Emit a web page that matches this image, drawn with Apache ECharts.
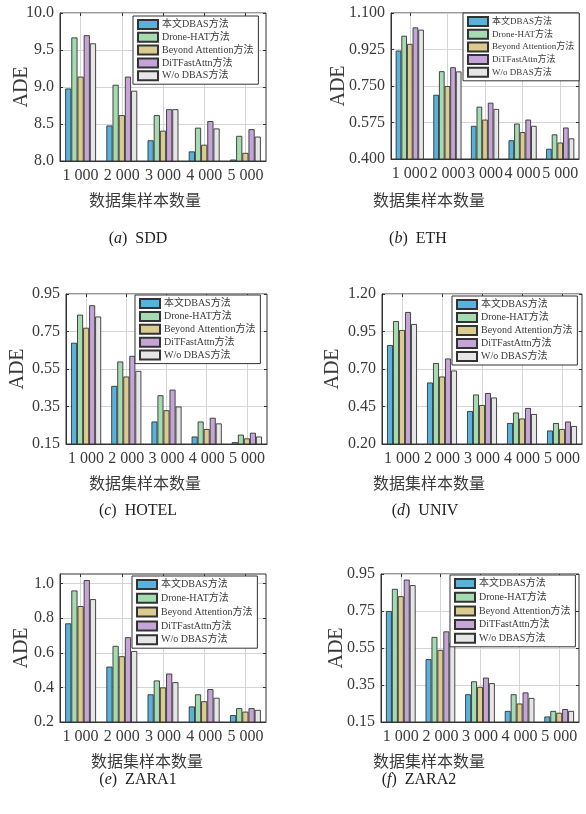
<!DOCTYPE html>
<html>
<head>
<meta charset="utf-8">
<script src="https://cdn.jsdelivr.net/npm/echarts@6/dist/echarts.min.js"></script>
<style>
  html, body { margin: 0; padding: 0; background: #ffffff; }
  #chart { width: 586px; height: 814px; }
</style>
</head>
<body>
<div id="chart"></div>
<script>
// Sample-count categories and compared methods
const categories = ['1 000', '2 000', '3 000', '4 000', '5 000'];
const methods = ['本文DBAS方法', 'Drone-HAT方法', 'Beyond Attention方法', 'DiTFastAttn方法', 'W/o DBAS方法'];

// SDD
const sddOurs     = [8.98, 8.48, 8.28, 8.13, 8.02];
const sddDroneHat = [9.67, 9.03, 8.62, 8.45, 8.34];
const sddBeyond   = [9.14, 8.62, 8.41, 8.22, 8.11];
const sddDiT      = [9.70, 9.14, 8.70, 8.54, 8.43];
const sddWo       = [9.59, 8.95, 8.70, 8.44, 8.33];
const sddTicks    = [8.0, 8.5, 9.0, 9.5, 10.0];

// ETH
const ethOurs     = [0.920, 0.708, 0.559, 0.490, 0.449];
const ethDroneHat = [0.991, 0.821, 0.651, 0.570, 0.518];
const ethBeyond   = [0.952, 0.750, 0.589, 0.529, 0.479];
const ethDiT      = [1.031, 0.840, 0.670, 0.589, 0.551];
const ethWo       = [1.020, 0.820, 0.640, 0.559, 0.499];
const ethTicks    = [0.400, 0.575, 0.750, 0.925, 1.100];

// HOTEL
const hotelOurs     = [0.69, 0.46, 0.27, 0.19, 0.16];
const hotelDroneHat = [0.84, 0.59, 0.41, 0.27, 0.20];
const hotelBeyond   = [0.77, 0.51, 0.33, 0.23, 0.18];
const hotelDiT      = [0.89, 0.62, 0.44, 0.29, 0.21];
const hotelWo       = [0.83, 0.54, 0.35, 0.26, 0.19];
const hotelTicks    = [0.15, 0.35, 0.55, 0.75, 0.95];

// UNIV
const univOurs     = [0.86, 0.61, 0.42, 0.34, 0.29];
const univDroneHat = [1.02, 0.74, 0.53, 0.41, 0.34];
const univBeyond   = [0.96, 0.65, 0.46, 0.37, 0.30];
const univDiT      = [1.08, 0.77, 0.54, 0.44, 0.35];
const univWo       = [1.00, 0.69, 0.51, 0.40, 0.32];
const univTicks    = [0.20, 0.45, 0.70, 0.95, 1.20];

// ZARA1
const zara1Ours     = [0.77, 0.52, 0.36, 0.29, 0.24];
const zara1DroneHat = [0.96, 0.64, 0.44, 0.36, 0.28];
const zara1Beyond   = [0.87, 0.58, 0.40, 0.32, 0.26];
const zara1DiT      = [1.02, 0.69, 0.48, 0.39, 0.28];
const zara1Wo       = [0.91, 0.61, 0.43, 0.34, 0.27];
const zara1Ticks    = [0.2, 0.4, 0.6, 0.8, 1.0];

// ZARA2
const zara2Ours     = [0.75, 0.49, 0.30, 0.21, 0.18];
const zara2DroneHat = [0.87, 0.61, 0.37, 0.30, 0.21];
const zara2Beyond   = [0.83, 0.54, 0.34, 0.25, 0.20];
const zara2DiT      = [0.92, 0.64, 0.39, 0.31, 0.22];
const zara2Wo       = [0.89, 0.58, 0.36, 0.28, 0.21];
const zara2Ticks    = [0.15, 0.35, 0.55, 0.75, 0.95];

const barColors = ['#58b3dc', '#a5dbb0', '#dccb8e', '#c5a5d8', '#e6e6e6'];
const SERIF = "'Liberation Serif', 'Times New Roman', 'Noto Sans CJK SC', serif";
const CJK = "'Noto Sans CJK SC', sans-serif";
const AXIS_COLOR = '#333';
const TEXT_COLOR = '#3a3a3a';

// Panel layout: plot rectangles, legend boxes, label positions
const panels = [
  { series: [sddOurs, sddDroneHat, sddBeyond, sddDiT, sddWo], ticks: sddTicks, min: 8, max: 10, dec: 1,
    grid: { left: 60, top: 13, width: 206, height: 148 }, nameGap: 28,
    legend: { left: 133, top: 16, fs: 10, gap: 1.8 }, xname: [140, 198], cap: [133, 236, 'a', 'SDD'] },
  { series: [ethOurs, ethDroneHat, ethBeyond, ethDiT, ethWo], ticks: ethTicks, min: 0.4, max: 1.1, dec: 3,
    grid: { left: 391, top: 13, width: 188, height: 146 }, nameGap: 42,
    legend: { left: 463, top: 13, fs: 9, gap: 1.7 }, xname: [424, 198], cap: [413, 236, 'b', 'ETH'] },
  { series: [hotelOurs, hotelDroneHat, hotelBeyond, hotelDiT, hotelWo], ticks: hotelTicks, min: 0.15, max: 0.95, dec: 2,
    grid: { left: 66, top: 294, width: 201, height: 150 }, nameGap: 38,
    legend: { left: 135, top: 295, fs: 10, gap: 1.9 }, xname: [140, 481], cap: [133, 508, 'c', 'HOTEL'] },
  { series: [univOurs, univDroneHat, univBeyond, univDiT, univWo], ticks: univTicks, min: 0.2, max: 1.2, dec: 2,
    grid: { left: 382, top: 294, width: 200, height: 150 }, nameGap: 39,
    legend: { left: 452, top: 296, fs: 10, gap: 2 }, xname: [424, 481], cap: [420, 508, 'd', 'UNIV'] },
  { series: [zara1Ours, zara1DroneHat, zara1Beyond, zara1DiT, zara1Wo], ticks: zara1Ticks, min: 0.2, max: 1.055, dec: 1,
    grid: { left: 60, top: 574, width: 206, height: 148 }, nameGap: 28,
    legend: { left: 132, top: 576, fs: 10, gap: 2.8 }, xname: [142, 759], cap: [133, 777, 'e', 'ZARA1'] },
  { series: [zara2Ours, zara2DroneHat, zara2Beyond, zara2DiT, zara2Wo], ticks: zara2Ticks, min: 0.15, max: 0.95, dec: 2,
    grid: { left: 381, top: 574, width: 198, height: 148 }, nameGap: 34,
    legend: { left: 450, top: 575, fs: 10, gap: 2.7 }, xname: [424, 759], cap: [414, 777, 'f', 'ZARA2'] }
];

const grid = [], xAxis = [], yAxis = [], series = [], legend = [], title = [];

panels.forEach((p, i) => {
  grid.push(Object.assign({ show: true, borderColor: AXIS_COLOR, borderWidth: 1, backgroundColor: 'transparent' }, p.grid));

  // bottom category axis
  xAxis.push({
    type: 'category', gridIndex: i, data: categories, position: 'bottom',
    axisLine: { show: true, lineStyle: { color: AXIS_COLOR, width: 1 } },
    axisTick: { show: true, inside: true, alignWithLabel: true, length: 3, lineStyle: { color: AXIS_COLOR } },
    axisLabel: { color: TEXT_COLOR, fontFamily: SERIF, fontSize: 16, margin: 7, interval: 0 },
    splitLine: { show: true, alignWithLabel: true, lineStyle: { color: '#d4d4d4', width: 1 } }
  });
  // top mirror axis carrying inner tick marks only
  xAxis.push({
    type: 'category', gridIndex: i, data: categories, position: 'top',
    axisLine: { show: false },
    axisTick: { show: true, inside: true, alignWithLabel: true, length: 3, lineStyle: { color: AXIS_COLOR } },
    axisLabel: { show: false }, splitLine: { show: false }
  });

  // left value axis
  yAxis.push({
    type: 'value', gridIndex: i, min: p.min, max: p.max, position: 'left',
    name: 'ADE', nameLocation: 'middle', nameRotate: 90, nameGap: p.nameGap, nameMoveOverlap: false,
    nameTextStyle: { fontFamily: SERIF, fontSize: 20, color: TEXT_COLOR },
    axisLine: { show: true, lineStyle: { color: AXIS_COLOR, width: 1 } },
    axisTick: { show: true, inside: true, length: 3, customValues: p.ticks, lineStyle: { color: AXIS_COLOR } },
    axisLabel: { customValues: p.ticks, color: TEXT_COLOR, fontFamily: SERIF, fontSize: 16, margin: 6,
                 formatter: v => Number(v).toFixed(p.dec) },
    splitLine: { show: true, lineStyle: { color: '#d4d4d4', width: 1 } }
  });
  // right mirror axis carrying inner tick marks only
  yAxis.push({
    type: 'value', gridIndex: i, min: p.min, max: p.max, position: 'right',
    axisLine: { show: false },
    axisTick: { show: true, inside: true, length: 3, customValues: p.ticks, lineStyle: { color: AXIS_COLOR } },
    axisLabel: { show: false }, splitLine: { show: false }
  });

  p.series.forEach((values, k) => {
    series.push({
      type: 'bar', name: methods[k], xAxisIndex: 2 * i, yAxisIndex: 2 * i,
      data: values, barGap: '0%', barCategoryGap: '25%',
      itemStyle: { color: barColors[k], borderColor: '#333', borderWidth: 0.9 },
      emphasis: { disabled: true }
    });
  });

  legend.push({
    data: methods, orient: 'vertical', left: p.legend.left, top: p.legend.top,
    backgroundColor: '#ffffff', borderColor: AXIS_COLOR, borderWidth: 1,
    padding: [3, 5, 3, 4], itemWidth: 20, itemHeight: 9, itemGap: p.legend.gap,
    icon: 'rect', selectedMode: false,
    textStyle: { fontFamily: SERIF, fontSize: p.legend.fs, lineHeight: p.legend.fs, color: TEXT_COLOR, padding: [0, 0, 0, -1] }
  });

  title.push({
    text: '数据集样本数量', left: p.xname[0], top: p.xname[1] - 11, textAlign: 'center',
    textStyle: { fontFamily: CJK, fontSize: 16, fontWeight: 'normal', color: TEXT_COLOR }
  });
  title.push({
    text: '({it|' + p.cap[2] + '})  ' + p.cap[3], left: p.cap[0], top: p.cap[1] - 10, textAlign: 'center',
    textStyle: {
      fontFamily: SERIF, fontSize: 16, fontWeight: 'normal', color: '#222',
      rich: { it: { fontFamily: SERIF, fontSize: 16, fontStyle: 'italic', color: '#222' } }
    }
  });
});

const chart = echarts.init(document.getElementById('chart'), null, { renderer: 'canvas' });
chart.setOption({
  animation: false,
  backgroundColor: '#ffffff',
  grid, xAxis, yAxis, series, legend, title
});
</script>
</body>
</html>
